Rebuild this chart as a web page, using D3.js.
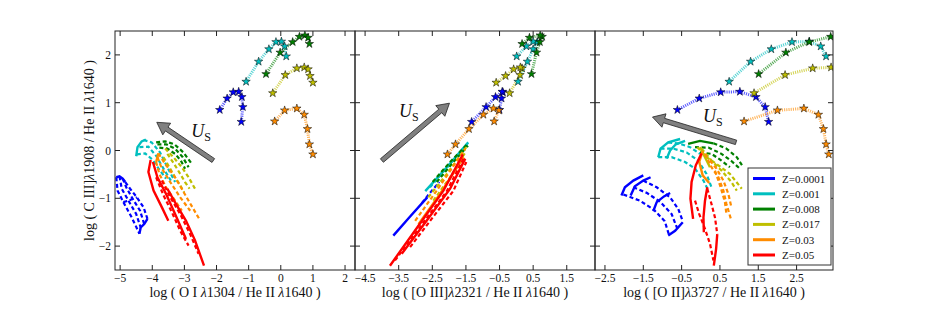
<!DOCTYPE html>
<html>
<head>
<meta charset="utf-8">
<script src="https://cdn.jsdelivr.net/npm/d3@7"></script>
<style>
  body { margin: 0; background: #fff; }
</style>
</head>
<body>
<div id="chart"></div>
<script>
// metallicity of each model family (index used by all the arrays below)
const metallicities = ["Z=0.0001", "Z=0.001", "Z=0.008", "Z=0.017", "Z=0.03", "Z=0.05"];

const yTicks = [-2, -1, 0, 1, 2];
const oiTicks = [-5, -4, -3, -2, -1, 0, 1, 2];
const o3Ticks = [-4.5, -3.5, -2.5, -1.5, -0.5, 0.5, 1.5];
const o2Ticks = [-2.5, -1.5, -0.5, 0.5, 1.5, 2.5];

// star sequences (one per metallicity, red has none): [x, y]
const oiStars = [
  [[-1.9, 0.85], [-1.67, 1.09], [-1.48, 1.22], [-1.31, 1.23], [-1.21, 1.12], [-1.18, 0.91], [-1.23, 0.6]],
  [[-1.08, 1.44], [-0.69, 1.86], [-0.37, 2.12], [-0.15, 2.27], [0.02, 2.28], [0.12, 2.18], [0.17, 1.97]],
  [[-0.46, 1.6], [-0.02, 2.05], [0.37, 2.27], [0.58, 2.38], [0.75, 2.41], [0.85, 2.36], [0.89, 2.23]],
  [[-0.25, 1.2], [0.14, 1.58], [0.5, 1.72], [0.73, 1.74], [0.85, 1.7], [0.91, 1.56], [1.0, 1.42]],
  [[-0.19, 0.61], [0.12, 0.84], [0.5, 0.88], [0.73, 0.75], [0.83, 0.45], [0.89, 0.13], [1.0, -0.08]]
];
const o3Stars = [
  [[-0.5, 0.85], [-0.44, 1.09], [-0.4, 1.22], [-0.42, 1.23], [-0.62, 1.12], [-0.9, 0.91], [-1.33, 0.6]],
  [[0.05, 1.44], [0.33, 1.86], [0.5, 2.12], [0.62, 2.27], [0.5, 2.28], [0.3, 2.18], [0.01, 1.97]],
  [[0.45, 1.6], [0.6, 2.05], [0.7, 2.27], [0.77, 2.38], [0.71, 2.41], [0.39, 2.36], [0.17, 2.23]],
  [[-0.2, 1.2], [0.11, 1.58], [0.17, 1.72], [0.12, 1.74], [-0.08, 1.7], [-0.32, 1.56], [-0.6, 1.42]],
  [[-0.66, 0.61], [-0.52, 0.84], [-0.68, 0.88], [-0.98, 0.75], [-1.41, 0.45], [-1.81, 0.13], [-2.05, -0.08]]
];
const o2Stars = [
  [[-0.61, 0.85], [-0.04, 1.09], [0.52, 1.22], [1.02, 1.23], [1.44, 1.12], [1.68, 0.91], [1.77, 0.6]],
  [[0.74, 1.44], [1.3, 1.86], [1.84, 2.12], [2.38, 2.27], [2.83, 2.28], [3.13, 2.18], [3.27, 1.97]],
  [[1.51, 1.6], [2.22, 2.05], [2.83, 2.27], [3.39, 2.38], [3.75, 2.41], [3.95, 2.36], [4.05, 2.23]],
  [[1.39, 1.2], [2.2, 1.58], [2.92, 1.72], [3.4, 1.74], [3.7, 1.7], [3.9, 1.56], [4.0, 1.42]],
  [[1.13, 0.61], [2.0, 0.84], [2.69, 0.88], [3.07, 0.75], [3.2, 0.45], [3.27, 0.13], [3.34, -0.08]]
];

// shock grids: [metallicity index, points]
const oiSolid = [
  [0, [[-5.12, -0.56], [-5.02, -0.54], [-4.92, -0.59], [-4.84, -0.66]]],
  [0, [[-4.40, -1.74], [-4.36, -1.61], [-4.25, -1.54], [-4.15, -1.43]]],
  [1, [[-4.50, -0.12], [-4.46, 0.07], [-4.33, 0.19], [-4.20, 0.23]]],
  [4, [[-3.81, -0.06], [-3.84, -0.14], [-3.88, -0.24]]],
  [5, [[-4.05, -0.20], [-4.12, -0.45], [-3.96, -0.84], [-3.70, -1.19], [-3.50, -1.47]]],
  [5, [[-3.98, -0.24], [-3.84, -0.56], [-3.57, -0.91], [-3.29, -1.33], [-2.95, -1.85]]],
  [5, [[-3.53, -0.80], [-3.26, -1.12], [-2.95, -1.47], [-2.67, -1.88], [-2.39, -2.41]]]
];
const oiDashed = [
  [0, [[-5.12, -0.56], [-5.08, -0.84], [-4.90, -1.08], [-4.64, -1.40], [-4.40, -1.74]]],
  [0, [[-5.02, -0.54], [-4.95, -0.80], [-4.74, -1.05], [-4.50, -1.33], [-4.36, -1.61]]],
  [0, [[-4.92, -0.59], [-4.81, -0.77], [-4.61, -1.01], [-4.38, -1.26], [-4.25, -1.54]]],
  [0, [[-4.84, -0.66], [-4.69, -0.80], [-4.48, -0.98], [-4.27, -1.19], [-4.15, -1.43]]],
  [0, [[-4.90, -1.08], [-4.74, -1.05], [-4.61, -1.01], [-4.48, -0.98]]],
  [1, [[-4.27, 0.22], [-4.02, 0.17], [-3.76, -0.04], [-3.53, -0.35], [-3.29, -0.66]]],
  [1, [[-4.40, 0.07], [-4.12, 0.08], [-3.88, -0.11], [-3.65, -0.38], [-3.42, -0.63]]],
  [1, [[-4.48, -0.08], [-4.22, -0.06], [-3.98, -0.20], [-3.76, -0.42], [-3.57, -0.59]]],
  [2, [[-3.88, 0.17], [-3.60, 0.19], [-3.31, 0.13], [-3.03, -0.04], [-2.77, -0.28]]],
  [2, [[-3.84, 0.13], [-3.57, 0.13], [-3.29, 0.04], [-3.05, -0.14], [-2.87, -0.35]]],
  [2, [[-3.78, 0.06], [-3.53, 0.04], [-3.29, -0.07], [-3.11, -0.21], [-2.98, -0.38]]],
  [3, [[-3.60, 0.04], [-3.34, -0.14], [-3.08, -0.35], [-2.87, -0.56], [-2.67, -0.80]]],
  [3, [[-3.53, -0.07], [-3.32, -0.28], [-3.13, -0.49], [-2.98, -0.66], [-2.84, -0.80]]],
  [3, [[-3.65, -0.14], [-3.47, -0.35], [-3.29, -0.56], [-3.13, -0.73], [-3.01, -0.87]]],
  [4, [[-3.81, -0.06], [-3.60, -0.28], [-3.29, -0.56], [-2.93, -0.98], [-2.54, -1.43]]],
  [4, [[-3.84, -0.14], [-3.70, -0.38], [-3.44, -0.66], [-3.13, -0.98], [-2.82, -1.26]]],
  [4, [[-3.88, -0.24], [-3.78, -0.49], [-3.57, -0.77], [-3.29, -1.05], [-3.08, -1.26]]],
  [5, [[-3.88, -0.56], [-3.65, -0.94], [-3.39, -1.29], [-3.13, -1.68], [-2.87, -1.99]]],
  [5, [[-3.70, -0.63], [-3.44, -0.98], [-3.13, -1.33], [-2.82, -1.75], [-2.56, -2.16]]]
];
const o3Solid = [
  [0, [[-3.66, -1.78], [-3.16, -1.38], [-2.65, -0.98]]],
  [1, [[-2.71, -0.85], [-2.07, -0.35], [-1.43, 0.17]]],
  [4, [[-2.91, -1.54], [-2.27, -0.91], [-1.57, -0.14]]],
  [5, [[-3.76, -2.41], [-2.96, -1.62], [-2.17, -0.84], [-1.59, -0.08]]],
  [5, [[-3.41, -2.16], [-2.67, -1.47], [-1.97, -0.80], [-1.52, -0.17]]]
];
const o3Dashed = [
  [0, [[-2.81, -1.10], [-2.55, -0.87], [-2.29, -0.66]]],
  [1, [[-2.57, -0.77], [-1.97, -0.28], [-1.47, 0.13]]],
  [2, [[-2.49, -0.66], [-1.97, -0.24], [-1.43, 0.15]]],
  [2, [[-2.37, -0.66], [-1.87, -0.24], [-1.44, 0.10]]],
  [3, [[-2.62, -0.98], [-2.07, -0.49], [-1.49, 0.07]]],
  [3, [[-2.47, -1.05], [-1.97, -0.56], [-1.52, -0.04]]],
  [4, [[-3.01, -1.47], [-2.37, -0.84], [-1.52, 0.04]]],
  [5, [[-3.61, -2.30], [-2.81, -1.55], [-2.07, -0.85], [-1.55, -0.14]]],
  [5, [[-3.16, -2.02], [-2.52, -1.43], [-1.87, -0.84], [-1.49, -0.24]]]
];
const o2Solid = [
  [0, [[-2.07, -0.94], [-1.98, -0.77], [-1.76, -0.63], [-1.50, -0.52]]],
  [0, [[-1.83, -0.94], [-1.72, -0.75], [-1.50, -0.63], [-1.31, -0.56]]],
  [0, [[-1.24, -1.27], [-1.15, -1.08], [-0.96, -0.96], [-0.80, -0.89]]],
  [0, [[-0.85, -1.78], [-0.67, -1.68], [-0.47, -1.50]]],
  [1, [[-1.11, -0.14], [-1.05, 0.04], [-0.85, 0.17], [-0.54, 0.24]]],
  [1, [[-0.89, -0.17], [-0.80, 0.0], [-0.65, 0.13], [-0.41, 0.20]]],
  [2, [[-0.33, 0.14], [-0.02, 0.20], [0.33, 0.15]]],
  [3, [[-0.02, 0.07], [0.11, -0.14], [0.24, -0.35]]],
  [4, [[0.05, -0.01], [-0.04, -0.24], [0.05, -0.52], [0.22, -0.68]]],
  [5, [[0.02, -0.06], [-0.13, -0.31], [-0.24, -0.66], [-0.27, -1.01], [-0.20, -1.43]]],
  [5, [[0.17, -0.77], [0.11, -1.05], [0.07, -1.40], [0.08, -1.71]]],
  [5, [[0.43, -1.75], [0.40, -2.06], [0.34, -2.41]]]
];
const o2Dashed = [
  [0, [[-2.02, -0.92], [-1.59, -1.05], [-1.22, -1.24], [-0.94, -1.48], [-0.83, -1.76]]],
  [0, [[-1.76, -0.77], [-1.40, -0.89], [-1.05, -1.08], [-0.76, -1.33], [-0.61, -1.64]]],
  [0, [[-1.50, -0.63], [-1.15, -0.77], [-0.80, -0.98], [-0.59, -1.22], [-0.47, -1.48]]],
  [1, [[-1.05, 0.04], [-0.72, 0.04], [-0.37, -0.04], [-0.07, -0.21], [0.15, -0.49], [0.28, -0.77]]],
  [1, [[-1.11, -0.14], [-0.76, -0.14], [-0.41, -0.24], [-0.15, -0.38], [0.07, -0.63], [0.20, -0.84]]],
  [1, [[-0.85, 0.17], [-0.54, 0.14], [-0.28, 0.07], [-0.02, -0.07]]],
  [2, [[0.33, 0.15], [0.67, 0.04], [0.94, -0.14], [1.11, -0.35]]],
  [2, [[-0.15, 0.07], [0.20, 0.06], [0.54, -0.07], [0.80, -0.22], [1.02, -0.38]]],
  [2, [[-0.02, -0.04], [0.28, -0.07], [0.54, -0.21], [0.76, -0.35]]],
  [3, [[-0.09, 0.07], [0.15, -0.14], [0.46, -0.31], [0.76, -0.49], [1.07, -0.80]]],
  [3, [[0.02, 0.04], [0.28, -0.21], [0.54, -0.42], [0.80, -0.66], [0.94, -0.84]]],
  [4, [[0.11, -0.07], [0.28, -0.35], [0.46, -0.56], [0.59, -0.84], [0.67, -1.12], [0.80, -1.47]]],
  [4, [[0.24, -0.21], [0.41, -0.38], [0.59, -0.63], [0.72, -0.91], [0.80, -1.19]]],
  [4, [[0.37, -0.42], [0.52, -0.77], [0.63, -1.08], [0.67, -1.33]]],
  [5, [[-0.15, -1.05], [-0.04, -1.33], [0.11, -1.64], [0.24, -1.95], [0.33, -2.30]]],
  [5, [[0.17, -0.80], [0.28, -1.12], [0.37, -1.40], [0.43, -1.75]]]
];

// U_S arrows (tail, tip) and label anchor, in data units
const oiArrow = [[-2.10, -0.21], [-3.86, 0.59]], oiArrowText = [-2.79, 0.29];
const o3Arrow = [[-4.0, -0.21], [-1.99, 0.99]], o3ArrowText = [-3.49, 0.71];
const o2Arrow = [[0.92, 0.17], [-1.26, 0.70]], o2ArrowText = [0.06, 0.60];

const colors = ["#0000ff", "#00bfbf", "#008000", "#bfbf00", "#ff8c00", "#ff0000"];
const serif = "'Liberation Serif', 'Times New Roman', 'DejaVu Serif', serif";

const plotTop = 31, plotBottom = 270;
const svg = d3.select("#chart").append("svg")
  .attr("width", 926).attr("height", 309)
  .attr("font-family", serif);

const y = d3.scaleLinear().domain([-2.5, 2.5]).range([plotBottom, plotTop]);

const panels = [
  { left: 115, right: 355, domain: [-5.16, 2.31], ticks: oiTicks, stars: oiStars, solid: oiSolid, dashed: oiDashed,
    arrow: oiArrow, arrowText: oiArrowText, label: "log ( O I λ1304 / He II λ1640 )" },
  { left: 355, right: 595, domain: [-4.8, 2.34], ticks: o3Ticks, stars: o3Stars, solid: o3Solid, dashed: o3Dashed,
    arrow: o3Arrow, arrowText: o3ArrowText, label: "log ( [O III]λ2321 / He II λ1640 )" },
  { left: 595, right: 833, domain: [-2.76, 3.45], ticks: o2Ticks, stars: o2Stars, solid: o2Solid, dashed: o2Dashed,
    arrow: o2Arrow, arrowText: o2ArrowText, label: "log ( [O II]λ3727 / He II λ1640 )" }
];

const fmt = d => String(d).replace("-", "\u2212");

function addLambdaText(sel, str) {
  const parts = str.split("λ");
  parts.forEach((p, i) => {
    if (i > 0) sel.append("tspan").style("font-style", "italic").text("λ");
    sel.append("tspan").text(p);
  });
}

panels.forEach((p, pi) => {
  const x = d3.scaleLinear().domain(p.domain).range([p.left, p.right]);
  const line = d3.line().x(d => x(d[0])).y(d => y(d[1]));

  svg.append("clipPath").attr("id", "clip" + pi)
    .append("rect").attr("x", p.left).attr("y", plotTop)
    .attr("width", p.right - p.left).attr("height", plotBottom - plotTop);

  const g = svg.append("g").attr("clip-path", `url(#clip${pi})`);

  // grids, drawn in metallicity order
  metallicities.forEach((m, zi) => {
    g.selectAll(null).data(p.dashed.filter(d => d[0] === zi)).enter()
      .append("path")
      .attr("d", d => line(d[1]))
      .attr("fill", "none")
      .attr("stroke", colors[zi])
      .attr("stroke-width", 2.2)
      .attr("stroke-dasharray", "4,2.6");
    g.selectAll(null).data(p.solid.filter(d => d[0] === zi)).enter()
      .append("path")
      .attr("d", d => line(d[1]))
      .attr("fill", "none")
      .attr("stroke", colors[zi])
      .attr("stroke-width", 2.4);
  });

  // dotted star tracks
  g.selectAll(null).data(p.stars).enter()
    .append("path")
    .attr("d", d => line(d))
    .attr("fill", "none")
    .attr("stroke", (d, i) => colors[i])
    .attr("stroke-opacity", 0.65)
    .attr("stroke-width", 3)
    .attr("stroke-dasharray", "1.1,1.1");

  p.stars.forEach((s, i) => {
    g.selectAll(null).data(s).enter()
      .append("path")
      .attr("d", d3.symbol().type(d3.symbolStar).size(22))
      .attr("transform", d => `translate(${x(d[0])},${y(d[1])})`)
      .attr("fill", colors[i])
      .attr("stroke", "#000")
      .attr("stroke-width", 0.5);
  });

  // U_S arrow
  const x0 = x(p.arrow[0][0]), y0 = y(p.arrow[0][1]);
  const x1 = x(p.arrow[1][0]), y1 = y(p.arrow[1][1]);
  const len = Math.hypot(x1 - x0, y1 - y0);
  const ux = (x1 - x0) / len, uy = (y1 - y0) / len;
  const nx = -uy, ny = ux;
  const sw = 2.3, hw = 7, hl = 12;
  const bx = x1 - ux * hl, by = y1 - uy * hl;
  const pts = [
    [x0 + nx * sw, y0 + ny * sw], [bx + nx * sw, by + ny * sw], [bx + nx * hw, by + ny * hw],
    [x1, y1],
    [bx - nx * hw, by - ny * hw], [bx - nx * sw, by - ny * sw], [x0 - nx * sw, y0 - ny * sw]
  ];
  svg.append("polygon")
    .attr("points", pts.map(q => q.join(",")).join(" "))
    .attr("fill", "#808080")
    .attr("stroke", "#222")
    .attr("stroke-width", 0.8);

  const ut = svg.append("text")
    .attr("x", x(p.arrowText[0]))
    .attr("y", y(p.arrowText[1]))
    .attr("fill", "#111");
  ut.append("tspan").style("font-style", "italic").style("font-size", "18px").text("U");
  ut.append("tspan").style("font-size", "12px").attr("dy", 4).text("S");

  // frame
  svg.append("rect")
    .attr("x", p.left).attr("y", plotTop)
    .attr("width", p.right - p.left).attr("height", plotBottom - plotTop)
    .attr("fill", "none").attr("stroke", "#222").attr("stroke-width", 1);

  // ticks inside on all sides
  const tk = svg.append("g").attr("stroke", "#222").attr("stroke-width", 1);
  p.ticks.forEach(t => {
    tk.append("line").attr("x1", x(t)).attr("x2", x(t)).attr("y1", plotBottom).attr("y2", plotBottom - 5);
    tk.append("line").attr("x1", x(t)).attr("x2", x(t)).attr("y1", plotTop).attr("y2", plotTop + 5);
  });
  yTicks.forEach(t => {
    tk.append("line").attr("x1", p.left).attr("x2", p.left + 5).attr("y1", y(t)).attr("y2", y(t));
    tk.append("line").attr("x1", p.right).attr("x2", p.right - 5).attr("y1", y(t)).attr("y2", y(t));
  });

  svg.append("g").selectAll("text").data(p.ticks).enter()
    .append("text")
    .attr("x", d => x(d))
    .attr("y", 282)
    .attr("text-anchor", "middle")
    .attr("fill", "#111")
    .style("font-size", "11.5px")
    .text(fmt);

  const xl = svg.append("text")
    .attr("x", (p.left + p.right) / 2)
    .attr("y", 297)
    .attr("text-anchor", "middle")
    .attr("fill", "#111")
    .style("font-size", "14px");
  addLambdaText(xl, p.label);

  if (pi === 0) {
    svg.append("g").selectAll("text").data(yTicks).enter()
      .append("text")
      .attr("x", 111)
      .attr("y", d => y(d) + 4)
      .attr("text-anchor", "end")
      .attr("fill", "#111")
      .style("font-size", "11.5px")
      .text(fmt);

    const yl = svg.append("text")
      .attr("transform", `translate(94,${(plotTop + plotBottom) / 2}) rotate(-90)`)
      .attr("text-anchor", "middle")
      .attr("fill", "#111")
      .style("font-size", "14px");
    addLambdaText(yl, "log ( C III]λ1908 / He II λ1640 )");
  }
});

// legend in the right panel
const legend = svg.append("g");
legend.append("rect")
  .attr("x", 748).attr("y", 168).attr("width", 83).attr("height", 97)
  .attr("fill", "#fff").attr("stroke", "#333").attr("stroke-width", 1);
metallicities.forEach((m, i) => {
  const ly = 178.5 + i * 15.3;
  legend.append("line")
    .attr("x1", 753).attr("x2", 775).attr("y1", ly).attr("y2", ly)
    .attr("stroke", colors[i]).attr("stroke-width", 3);
  legend.append("text")
    .attr("x", 782).attr("y", ly + 4)
    .attr("fill", "#111")
    .style("font-size", "11px")
    .text(m);
});
</script>
</body>
</html>
